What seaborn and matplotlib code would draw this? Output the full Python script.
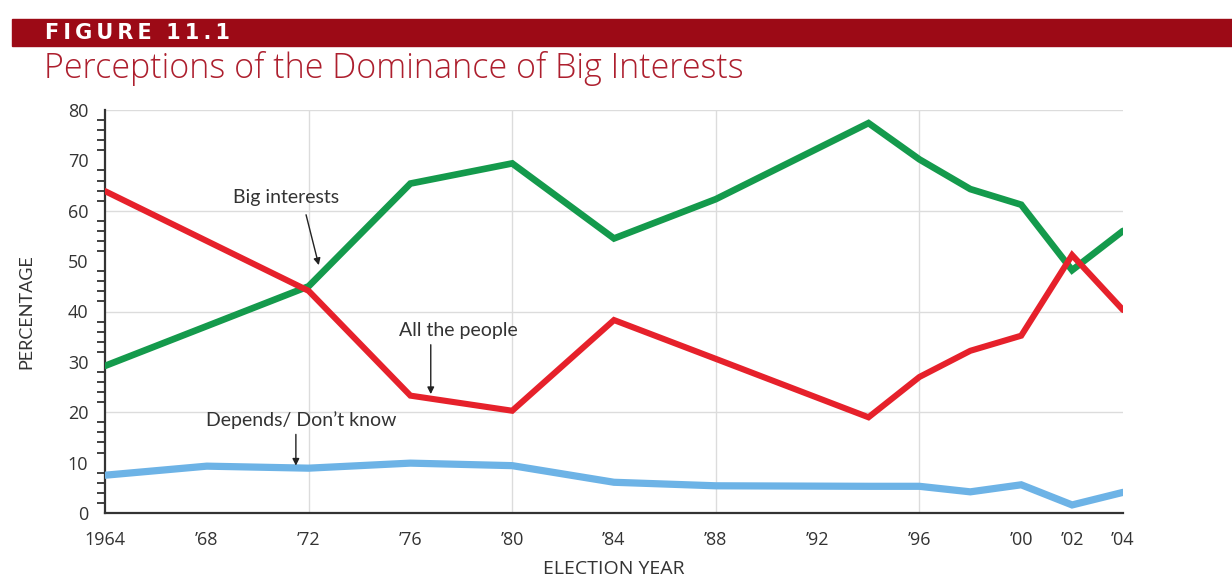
import numpy as np
import pandas as pd
import matplotlib
matplotlib.use("Agg")
import matplotlib.pyplot as plt
from matplotlib.patches import Rectangle
from matplotlib.ticker import MultipleLocator
import seaborn as sns

# ── Data ───────────────────────────────────────────────
years_big = [1964, 1968, 1972, 1976, 1980, 1984, 1988, 1994, 1996, 1998, 2000, 2002, 2004]
big_interests = [29.2, 37.1, 45.0, 65.4, 69.4, 54.5, 62.3, 77.4, 70.2, 64.3, 61.2, 48.2, 56.0]

years_all = [1964, 1968, 1972, 1976, 1980, 1984, 1988, 1994, 1996, 1998, 2000, 2002, 2004]
all_people = [63.9, 54.0, 44.1, 23.3, 20.3, 38.3, 30.6, 19.0, 27.0, 32.2, 35.2, 51.2, 40.3]

years_dk = [1964, 1968, 1972, 1976, 1980, 1984, 1988, 1994, 1996, 1998, 2000, 2002, 2004]
dont_know = [7.5, 9.3, 8.9, 9.9, 9.4, 6.1, 5.4, 5.3, 5.3, 4.2, 5.6, 1.6, 4.1]

tick_years = [1964, 1968, 1972, 1976, 1980, 1984, 1988, 1992, 1996, 2000, 2002, 2004]
tick_labels = ["1964", "’68", "’72", "’76", "’80", "’84", "’88", "’92", "’96", "’00", "’02", "’04"]
grid_years = [1972, 1980, 1988, 1996]
grid_pcts = [20, 40, 60, 80]

df_big = pd.DataFrame({"year": years_big, "pct": big_interests})
df_all = pd.DataFrame({"year": years_all, "pct": all_people})
df_dk = pd.DataFrame({"year": years_dk, "pct": dont_know})

sns.set_style("white")
plt.rcParams["font.family"] = ["Lato", "DejaVu Sans"]

fig = plt.figure(figsize=(12.32, 5.88), dpi=100)
ax = fig.add_axes([105 / 1232, 1 - 513 / 588, (1123 - 105) / 1232, (513 - 110) / 588])

# light grid
ax.vlines(grid_years, 0, 80, color="#dcdcdc", lw=1.0, zorder=0)
ax.hlines(grid_pcts, 1964, 2004, color="#dcdcdc", lw=1.0, zorder=0)

sns.lineplot(data=df_dk, x="year", y="pct", color="#6db3e6", lw=5.2, ax=ax,
             solid_joinstyle="miter", zorder=3)
sns.lineplot(data=df_big, x="year", y="pct", color="#149a4c", lw=4.8, ax=ax,
             solid_joinstyle="miter", zorder=4)
sns.lineplot(data=df_all, x="year", y="pct", color="#e6212b", lw=4.4, ax=ax,
             solid_joinstyle="miter", zorder=5)

ax.set_xlim(1964, 2004)
ax.set_ylim(0, 80)
ax.set_xticks(tick_years)
ax.set_xticklabels(tick_labels)
ax.yaxis.set_major_locator(MultipleLocator(10))
ax.yaxis.set_minor_locator(MultipleLocator(2))

for s in ["top", "right"]:
    ax.spines[s].set_visible(False)
for s in ["left", "bottom"]:
    ax.spines[s].set_color("#333333")
    ax.spines[s].set_linewidth(1.6)

ax.tick_params(axis="both", which="major", direction="out", length=8, width=1.6,
               color="#333333", labelsize=14, labelcolor="#333333")
ax.tick_params(axis="y", which="minor", direction="out", length=6, width=1.3,
               color="#333333", left=True)
ax.tick_params(axis="x", which="major", pad=5)
ax.tick_params(axis="y", which="major", pad=4)
for lab in ax.get_xticklabels() + ax.get_yticklabels():
    lab.set_family(["Open Sans", "DejaVu Sans"])
    lab.set_fontsize(13)

ax.set_xlabel("ELECTION YEAR", fontsize=14, color="#333333", labelpad=8,
              family=["Open Sans", "DejaVu Sans"])
ax.set_ylabel("PERCENTAGE", fontsize=13, color="#333333", labelpad=24)

# annotations
arrow = dict(arrowstyle="-|>", color="#222222", lw=1.0, mutation_scale=10,
             shrinkA=0, shrinkB=0)
note_font = dict(fontsize=14, color="#333333", ha="center", va="center")
ax.annotate("", xy=(1972.4, 49.2), xytext=(1971.9, 59.2), arrowprops=arrow)
ax.text(1971.1, 62.6, "Big interests", **note_font)
ax.annotate("", xy=(1976.8, 23.6), xytext=(1976.8, 33.4), arrowprops=arrow)
ax.text(1977.9, 36.3, "All the people", **note_font)
ax.annotate("", xy=(1971.5, 9.4), xytext=(1971.5, 15.6), arrowprops=arrow)
ax.text(1971.7, 18.5, "Depends/ Don’t know", **note_font)

# header banner and title
fig.patches.append(Rectangle((12 / 1232, 1 - 46 / 588), 1, 27 / 588,
                             transform=fig.transFigure, color="#9c0a16", zorder=0))
fig.text(45 / 1232, 1 - 33 / 588, "\u2009".join("FIGURE") + "  " + "\u2009".join("11.1"),
         color="white", fontsize=15, fontweight="heavy", family=["DejaVu Sans"],
         va="center", ha="left")
fig.text(44 / 1232, 1 - 68 / 588, "Perceptions of the Dominance of Big Interests",
         color="#ad1f2e", fontsize=24.5, fontweight="light",
         family=["Open Sans", "DejaVu Sans"], va="center", ha="left")

fig.savefig("out.png", dpi=100)
